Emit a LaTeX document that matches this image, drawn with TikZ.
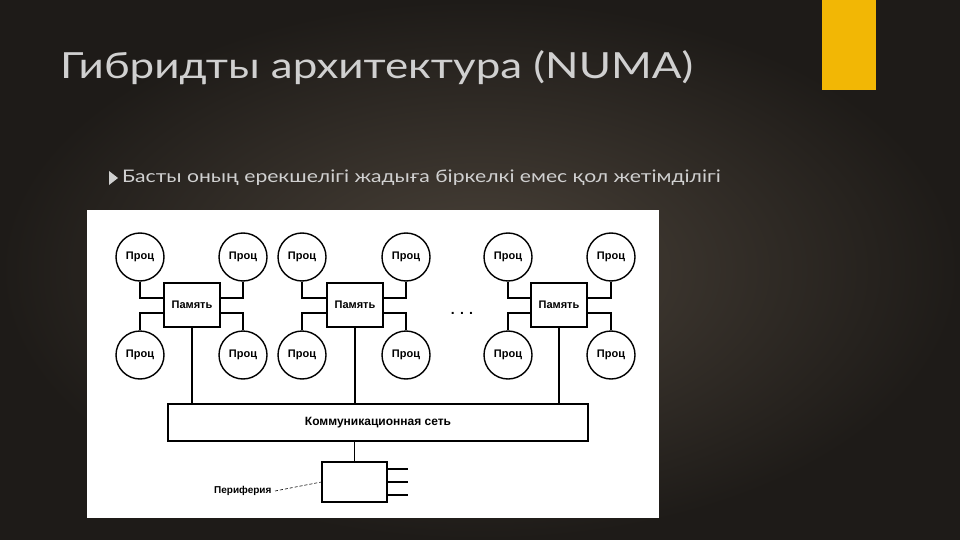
\documentclass[tikz,border=0pt]{standalone}
\usepackage{fontspec}
\setmainfont{Lato}[FakeStretch=1.22]
\newfontfamily\diag{Liberation Sans}
\begin{document}
\begin{tikzpicture}[x=1pt,y=-1pt,
  proc/.style={draw,line width=1.4pt,circle,minimum size=48pt,inner sep=0pt,font=\diag\bfseries\fontsize{11}{11}\selectfont},
  mem/.style={draw,line width=1.4pt,minimum width=56pt,minimum height=44pt,inner sep=0pt,font=\diag\bfseries\fontsize{11}{11}\selectfont},
  wire/.style={line width=1.3pt}]
\definecolor{bgdark}{HTML}{1E1B18}
\definecolor{bglight}{HTML}{4A4239}
\definecolor{ttl}{HTML}{D0D0D0}
\definecolor{ylw}{HTML}{F2B705}
\shade[inner color=bglight,outer color=bgdark] (0,0) rectangle (960,540);
\useasboundingbox (0,0) rectangle (960,540);
\fill[ylw] (822,0) rectangle (876,90);
\node[anchor=west,text=ttl,inner sep=0pt,font=\fontsize{36}{36}\selectfont] (title) at (60,68) {Гибридты архитектура (NUMA)};
\fill[ttl] (109,171) -- (118,178) -- (109,185) -- cycle;
\node[anchor=west,text=ttl,inner sep=0pt,font=\fontsize{17.3}{17.3}\selectfont] (bul) at (122,178) {Басты оның ерекшелігі жадыға біркелкі емес қол жетімділігі};
\fill[white] (87,210) rectangle (659,518);
\foreach \g/\m/\l/\r in {a/192/140/243, b/355/302/406, c/559/508/611}{
  \node[mem] (m\g) at (\m,305) {Память};
  \node[proc] (p\g1) at (\l,257) {Проц};
  \node[proc] (p\g2) at (\r,257) {Проц};
  \node[proc] (p\g3) at (\l,355) {Проц};
  \node[proc] (p\g4) at (\r,355) {Проц};
  \draw[wire] (p\g1.south) |- (m\g.west |- 0,298);
  \draw[wire] (p\g2.south) |- (m\g.east |- 0,298);
  \draw[wire] (p\g3.north) |- (m\g.west |- 0,313);
  \draw[wire] (p\g4.north) |- (m\g.east |- 0,313);
}
\node[draw,line width=1.4pt,minimum width=420pt,minimum height=37pt,inner sep=0pt,font=\diag\bfseries\fontsize{12}{12}\selectfont] (net) at (378,422.5) {Коммуникационная сеть};
\foreach \g in {a,b,c} \draw[wire] (m\g.south) -- (m\g.south |- net.north);
\node[font=\diag\bfseries\fontsize{14}{14}\selectfont] (dots) at (462,313) {. . .};
\node[draw,line width=1.4pt,minimum width=65pt,minimum height=40pt,inner sep=0pt] (per) at (354.5,482) {};
\draw[wire] (net.south -| per.north) -- (per.north);
\foreach \y [count=\i] in {469,482,495}{
  \coordinate (s\i) at (408,\y);
  \draw[wire] (per.east |- s\i) -- (s\i);
}
\node[font=\diag\bfseries\fontsize{10}{10}\selectfont,anchor=east] (plab) at (275,491) {Периферия};
\draw[densely dashed,line width=0.6pt] (plab.east) -- (per.west);
\end{tikzpicture}
\end{document}
